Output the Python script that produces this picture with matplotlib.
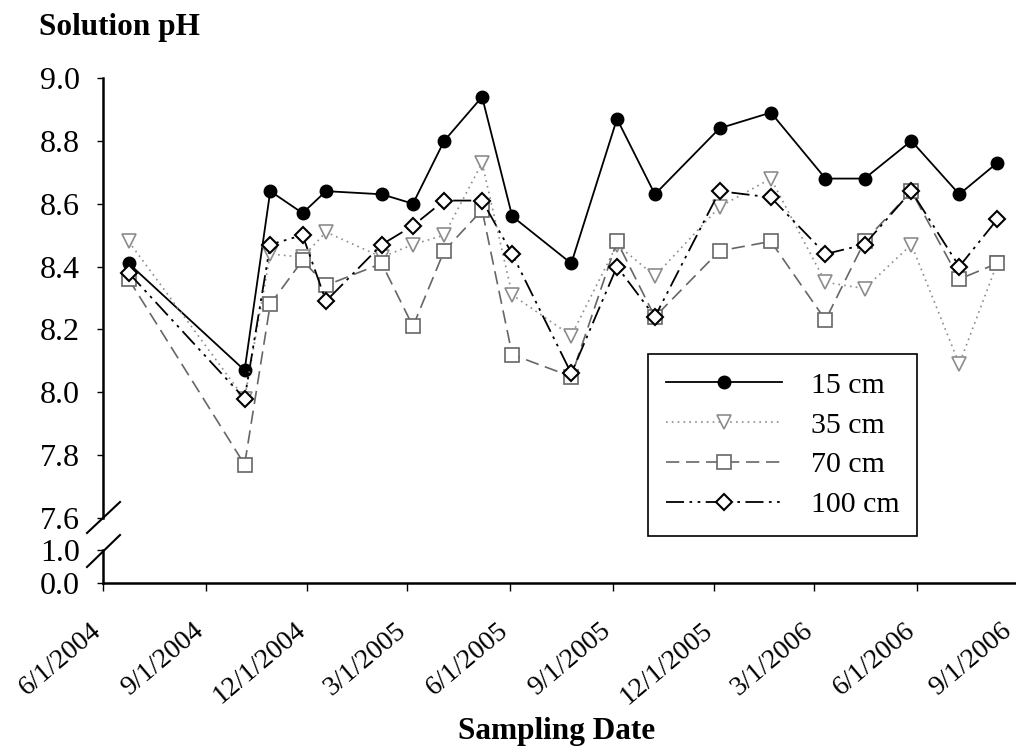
import matplotlib.pyplot as plt
import matplotlib.dates as mdates
import matplotlib.transforms as mtrans
from matplotlib.lines import Line2D
from datetime import datetime

plt.rcParams['font.family'] = ['Liberation Serif', 'DejaVu Serif']

# sampling dates and solution pH per depth
dates = ["6/24/2004", "10/6/2004", "10/29/2004", "11/27/2004", "12/18/2004",
         "2/6/2005", "3/6/2005", "4/3/2005", "5/7/2005", "6/3/2005",
         "7/26/2005", "9/5/2005", "10/9/2005", "12/6/2005", "1/21/2006",
         "3/11/2006", "4/15/2006", "5/27/2006", "7/9/2006", "8/12/2006"]
ph_15 = [8.41, 8.07, 8.64, 8.57, 8.64, 8.63, 8.60, 8.80, 8.94, 8.56,
         8.41, 8.87, 8.63, 8.84, 8.89, 8.68, 8.68, 8.80, 8.63, 8.73]
ph_35 = [8.48, 7.98, 8.44, 8.43, 8.51, 8.43, 8.47, 8.50, 8.73, 8.31,
         8.18, 8.47, 8.37, 8.59, 8.68, 8.35, 8.33, 8.47, 8.09, 8.41]
ph_70 = [8.36, 7.77, 8.28, 8.42, 8.34, 8.41, 8.21, 8.45, 8.58, 8.12,
         8.05, 8.48, 8.24, 8.45, 8.48, 8.23, 8.48, 8.64, 8.36, 8.41]
ph_100 = [8.38, 7.98, 8.47, 8.50, 8.29, 8.47, 8.53, 8.61, 8.61, 8.44,
          8.06, 8.40, 8.24, 8.64, 8.62, 8.44, 8.47, 8.64, 8.40, 8.55]
tick_labels = ["6/1/2004", "9/1/2004", "12/1/2004", "3/1/2005", "6/1/2005",
               "9/1/2005", "12/1/2005", "3/1/2006", "6/1/2006", "9/1/2006"]

x = [datetime.strptime(d, "%m/%d/%Y") for d in dates]
ticks = [mdates.date2num(datetime.strptime(d, "%m/%d/%Y")) for d in tick_labels]

W, H = 1016, 749
fig = plt.figure(figsize=(W / 100, H / 100), dpi=100)
ax = fig.add_axes([103 / W, 1 - 518 / H, 916.5 / W, 440 / H])
ax_low = fig.add_axes([103 / W, 1 - 583 / H, 916.5 / W, 33 / H], sharex=ax)

ax.plot(x, ph_15, color='black', lw=1.3, marker='o', ms=9,
        mfc='black', mec='black', label='15 cm')
ax.plot(x, ph_35, color='#8c8c8c', lw=1.2, ls=(0, (1, 2.5)), marker='v', ms=10,
        mfc='white', mec='#8c8c8c', mew=1.2, label='35 cm')
ax.plot(x, ph_70, color='#666666', lw=1.2, ls=(0, (8, 4)), marker='s', ms=10,
        mfc='white', mec='#666666', mew=1.2, label='70 cm')
ax.plot(x, ph_100, color='black', lw=1.3, ls=(0, (10, 3, 1.5, 3, 1.5, 3)),
        marker='D', ms=8.5, mfc='white', mec='black', mew=1.5, label='100 cm')

fs = 20
yfs = 23
ax.set_ylim(7.6, 9.0)
ax.set_yticks([7.6, 7.8, 8.0, 8.2, 8.4, 8.6, 8.8, 9.0])
ax.set_yticklabels(["7.6", "7.8", "8.0", "8.2", "8.4", "8.6", "8.8", "9.0"])
ax.set_xlim(ticks[0], ticks[-1])
for s in ['top', 'right', 'bottom']:
    ax.spines[s].set_visible(False)
ax.spines['left'].set_linewidth(1.8)
ax.tick_params(axis='x', bottom=False, labelbottom=False)
ax.tick_params(axis='y', direction='out', length=4.5, width=1, labelsize=yfs, pad=12)

ax_low.set_ylim(0, 1.0)
ax_low.set_yticks([0, 1.0])
ax_low.set_yticklabels(["0.0", "1.0"])
for s in ['top', 'right']:
    ax_low.spines[s].set_visible(False)
ax_low.spines['left'].set_linewidth(1.8)
ax_low.spines['bottom'].set_linewidth(1.8)
ax_low.set_xticks(ticks)
ax_low.set_xticklabels(tick_labels, rotation=40, ha='right', rotation_mode='anchor')
ax_low.tick_params(axis='y', direction='out', length=4.5, width=1, labelsize=yfs, pad=12)
ax_low.tick_params(axis='x', direction='out', length=6, width=1, labelsize=fs, pad=19)
labels = ax_low.get_xticklabels()
for i, lab in enumerate(labels):
    dx = -13 if i < len(labels) - 1 else -19
    lab.set_transform(lab.get_transform() +
                      mtrans.ScaledTranslation(dx / 100, 0, fig.dpi_scale_trans))

# axis break marks
for y0, y1 in [(533, 502), (567, 535)]:
    fig.add_artist(Line2D([87 / W, 120 / W], [1 - y0 / H, 1 - y1 / H],
                          color='black', lw=1.5, transform=fig.transFigure))

leg = ax.legend(loc='upper left', bbox_to_anchor=(648 / W, 1 - 354 / H),
                bbox_transform=fig.transFigure, fontsize=21.5, numpoints=1,
                handlelength=3.9, fancybox=False, framealpha=1,
                edgecolor='black', borderpad=0.6, labelspacing=0.43,
                handletextpad=0.95, borderaxespad=0)
leg.get_frame().set_linewidth(1.2)

fig.text(39 / W, 1 - 27 / H, "Solution pH", fontsize=22.5, fontweight='bold',
         va='center', ha='left')
fig.text(557 / W, 1 - 731 / H, "Sampling Date", fontsize=22.5, fontweight='bold',
         va='center', ha='center')

fig.savefig('out.png', dpi=100)
